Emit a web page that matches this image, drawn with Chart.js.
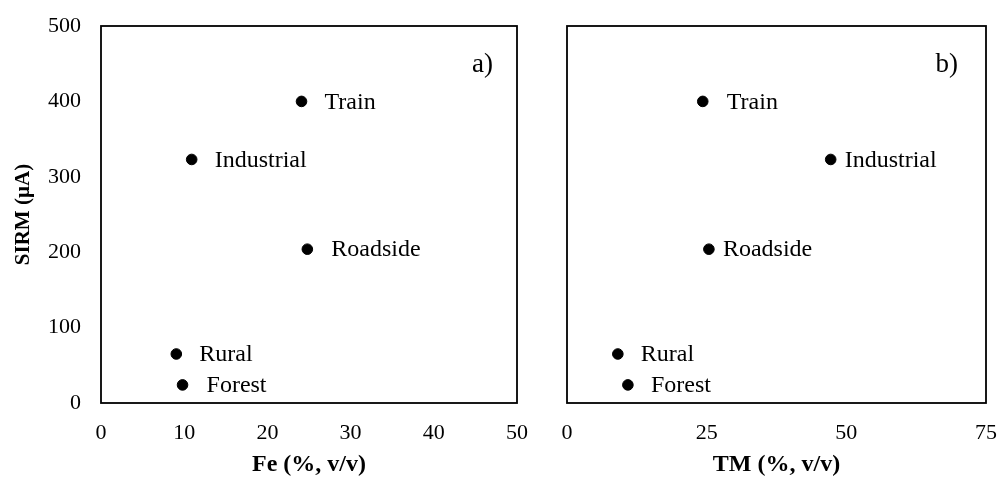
<!DOCTYPE html>
<html>
<head>
<meta charset="utf-8">
<script src="https://cdn.jsdelivr.net/npm/chart.js@4/dist/chart.umd.min.js"></script>
<style>
  html, body { margin: 0; padding: 0; background: #fff; overflow: hidden; }
  #wrap { position: relative; width: 1000px; height: 477px; }
  canvas { position: absolute; top: 0; display: block; }
  #chartA { left: 0; }
  #chartB { left: 540px; }
</style>
</head>
<body>
<div id="wrap">
  <canvas id="chartA" width="540" height="477"></canvas>
  <canvas id="chartB" width="460" height="477"></canvas>
</div>
<script>
// sites, shared y values and the two x variables
const sites = ['Train', 'Industrial', 'Roadside', 'Rural', 'Forest'];
const sirm = [400, 323, 204, 65, 24];
const fe = [24.1, 10.9, 24.8, 9.05, 9.8];
const tm = [24.3, 47.2, 25.4, 9.1, 10.9];

const feTicks = [0, 10, 20, 30, 40, 50];
const tmTicks = [0, 25, 50, 75];
const sirmTicks = [0, 100, 200, 300, 400, 500];

const serif = "'Liberation Serif', 'Times New Roman', serif";

function toPoints(xs) {
    return xs.map((x, i) => ({ x: x, y: sirm[i], name: sites[i] }));
}

// the tick labels may overhang the plot box, so drop the extra room chart.js keeps for them
function noLabelPadding(s) {
    s.paddingTop = 0;
    s.paddingBottom = 0;
    s.paddingLeft = 0;
    s.paddingRight = 0;
}

// frame round the plot area, point names and the panel letter
const decorPlugin = {
    id: 'decor',
    afterDatasetsDraw(chart, args, opts) {
        const ctx = chart.ctx;
        const area = chart.chartArea;
        ctx.save();
        ctx.fillStyle = '#000';
        ctx.font = '24px ' + serif;
        ctx.textBaseline = 'middle';
        ctx.textAlign = 'left';
        const meta = chart.getDatasetMeta(0);
        meta.data.forEach((pt, i) => {
            const gap = (opts.gaps && opts.gaps[i]) || 23;
            ctx.fillText(sites[i], pt.x + gap, pt.y + 1);
        });
        ctx.font = '27px ' + serif;
        ctx.textAlign = 'right';
        ctx.fillText(opts.letter, area.right - opts.letterRight, area.top + 39);
        ctx.strokeStyle = '#000';
        ctx.lineWidth = 1.8;
        ctx.strokeRect(area.left, area.top, area.right - area.left, area.bottom - area.top);
        ctx.restore();
    }
};

function xScale(title, max, ticks) {
    return {
        type: 'linear',
        min: 0,
        max: max,
        afterBuildTicks: s => { s.ticks = ticks.map(v => ({ value: v })); },
        afterFit: s => { s.height = 74; noLabelPadding(s); },
        grid: { display: false, drawTicks: false },
        border: { display: false },
        ticks: {
            color: '#000',
            padding: 17,
            maxRotation: 0,
            font: { family: serif, size: 22 }
        },
        title: {
            display: true,
            text: title,
            color: '#000',
            padding: { top: 0, bottom: -2 },
            font: { family: serif, size: 24, weight: 'bold' }
        }
    };
}

function makeChart(id, xs, xOpts, yShown, padding, decor) {
    return new Chart(document.getElementById(id), {
        type: 'scatter',
        data: {
            datasets: [{
                data: toPoints(xs),
                backgroundColor: '#000',
                borderColor: '#000',
                pointRadius: 5.3,
                pointHoverRadius: 5.3
            }]
        },
        options: {
            responsive: false,
            animation: false,
            devicePixelRatio: 1,
            layout: { padding: padding },
            plugins: {
                legend: { display: false },
                tooltip: { enabled: false },
                decor: decor
            },
            scales: {
                x: xOpts,
                y: {
                    type: 'linear',
                    display: yShown,
                    min: 0,
                    max: 500,
                    afterBuildTicks: s => { s.ticks = sirmTicks.map(v => ({ value: v })); },
                    afterFit: s => { s.width = yShown ? 101 : 0; noLabelPadding(s); },
                    grid: { display: false, drawTicks: false },
                    border: { display: false },
                    ticks: {
                        color: '#000',
                        padding: 20,
                        font: { family: serif, size: 22 }
                    },
                    title: {
                        display: true,
                        text: 'SIRM (µA)',
                        color: '#000',
                        padding: { top: 11, bottom: 11 },
                        font: { family: serif, size: 21, weight: 'bold' }
                    }
                }
            }
        },
        plugins: [decorPlugin]
    });
}

makeChart('chartA', fe, xScale('Fe (%, v/v)', 50, feTicks), true,
    { top: 26, right: 23, left: 0, bottom: 0 },
    { letter: 'a)', letterRight: 24, gaps: [23, 23, 24, 23, 24] });

makeChart('chartB', tm, xScale('TM (%, v/v)', 75, tmTicks), false,
    { top: 26, right: 14, left: 27, bottom: 0 },
    { letter: 'b)', letterRight: 28, gaps: [24, 14, 14, 23, 23] });
</script>
</body>
</html>
